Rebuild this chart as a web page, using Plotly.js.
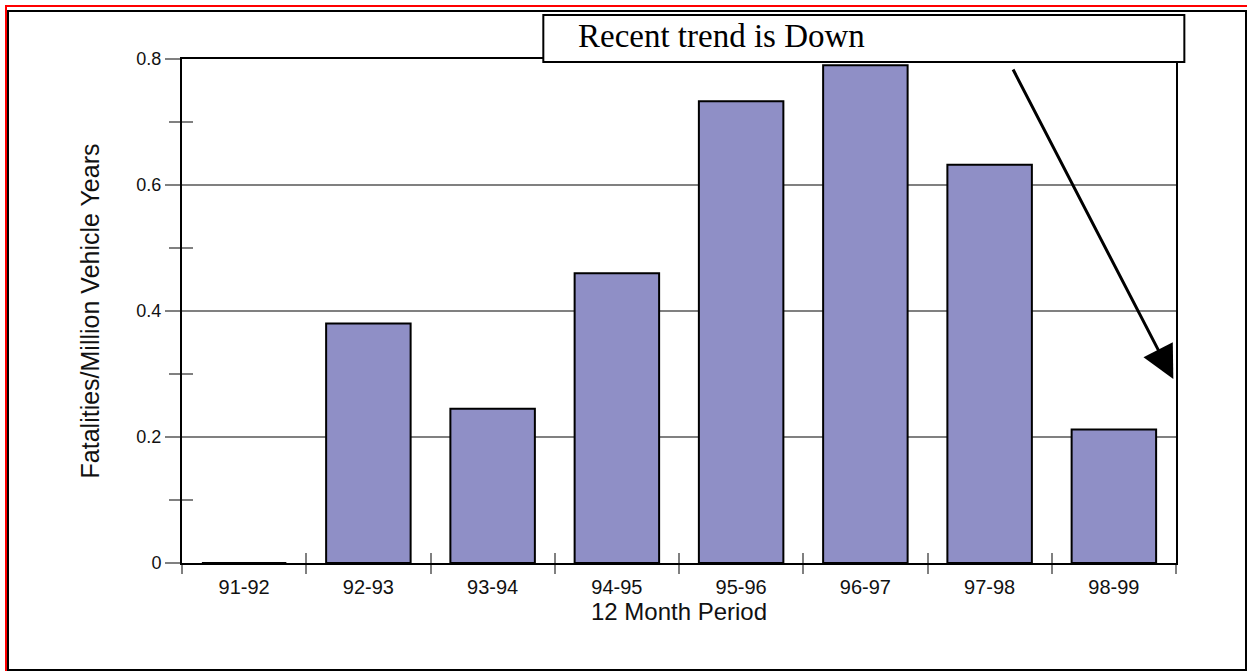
<!DOCTYPE html>
<html>
<head>
<meta charset="utf-8">
<script src="https://cdn.plot.ly/plotly-3.0.1.min.js"></script>
<style>
  html, body { margin: 0; padding: 0; background: #ffffff; overflow: hidden; }
  #redframe { position: absolute; left: 5px; top: 5px; width: 3000px; height: 3000px;
              border-top: 2px solid #ff0000; border-left: 2px solid #ff0000; box-sizing: border-box; }
  #blackframe { position: absolute; left: 7px; top: 10px; width: 1240px; height: 661px;
                border: 2px solid #000000; box-sizing: border-box; }
  #chart { position: absolute; left: 0; top: 0; width: 1247px; height: 671px; }
</style>
</head>
<body>
<div id="redframe"></div>
<div id="blackframe"></div>
<div id="chart"></div>
<script>
// ---- data ----
const periods = ['91-92', '92-93', '93-94', '94-95', '95-96', '96-97', '97-98', '98-99'];
const fatalityRates = [0, 0.38, 0.245, 0.46, 0.733, 0.79, 0.632, 0.212];
const yTickValues = [0, 0.2, 0.4, 0.6, 0.8];
const yTickLabels = ['0', '0.2', '0.4', '0.6', '0.8'];
const yAxisTitle = 'Fatalities/Million Vehicle Years';
const xAxisTitle = '12 Month Period';
const noteText = 'Recent trend is Down';

const sans = '"Liberation Sans", Arial, sans-serif';
const serif = '"Liberation Serif", "Times New Roman", serif';
const tickGray = '#808080';

const bars = {
  type: 'bar',
  x: periods,
  y: fatalityRates,
  width: 0.68,
  marker: { color: 'rgb(143,143,198)', line: { color: '#000000', width: 2 } },
  hoverinfo: 'x+y',
  showlegend: false
};

// invisible companion trace so the inner-tick axes exist
const ghost = {
  type: 'scatter',
  mode: 'markers',
  x: periods,
  y: fatalityRates,
  xaxis: 'x2',
  yaxis: 'y2',
  marker: { opacity: 0 },
  hoverinfo: 'skip',
  showlegend: false
};

const layout = {
  width: 1247,
  height: 671,
  margin: { l: 182, r: 71, t: 59, b: 108, pad: 0 },
  paper_bgcolor: 'rgba(0,0,0,0)',
  plot_bgcolor: '#ffffff',
  showlegend: false,
  bargap: 0.32,
  xaxis: {
    type: 'category',
    range: [-0.5, periods.length - 0.5],
    tickson: 'boundaries',
    ticks: 'outside',
    ticklen: 9,
    tickwidth: 2,
    tickcolor: tickGray,
    ticklabelstandoff: 5,
    showgrid: false,
    zeroline: false,
    showline: true,
    mirror: true,
    linecolor: '#000000',
    linewidth: 2,
    tickfont: { family: sans, size: 20, color: '#111111' },
    title: { text: xAxisTitle, font: { family: sans, size: 24, color: '#111111' }, standoff: 4 }
  },
  yaxis: {
    range: [0, 0.8],
    tickvals: yTickValues,
    ticktext: yTickLabels,
    ticks: 'outside',
    ticklen: 15,
    tickwidth: 2,
    tickcolor: tickGray,
    minor: { dtick: 0.1, ticks: 'outside', ticklen: 11, tickwidth: 2, tickcolor: tickGray, showgrid: false },
    showgrid: true,
    gridcolor: tickGray,
    gridwidth: 2,
    zeroline: false,
    showline: true,
    mirror: true,
    linecolor: '#000000',
    linewidth: 2,
    tickfont: { family: sans, size: 18, color: '#111111' },
    title: { text: yAxisTitle, font: { family: sans, size: 25, color: '#111111' }, standoff: 30 }
  },
  xaxis2: {
    type: 'category',
    overlaying: 'x',
    range: [-0.5, periods.length - 0.5],
    tickson: 'boundaries',
    ticks: 'inside',
    ticklen: 10,
    tickwidth: 2,
    tickcolor: tickGray,
    showticklabels: false,
    showgrid: false,
    zeroline: false,
    showline: false
  },
  yaxis2: {
    overlaying: 'y',
    side: 'left',
    range: [0, 0.8],
    tickvals: yTickValues,
    ticks: 'inside',
    ticklen: 15,
    tickwidth: 2,
    tickcolor: tickGray,
    minor: { dtick: 0.1, ticks: 'inside', ticklen: 11, tickwidth: 2, tickcolor: tickGray, showgrid: false },
    showticklabels: false,
    showgrid: false,
    zeroline: false,
    showline: false
  },
  shapes: [
    {
      type: 'rect', xref: 'paper', yref: 'paper', layer: 'above',
      x0: 0.3635, x1: 1.0084, y0: 0.994, y1: 1.0873,
      fillcolor: '#ffffff', line: { color: '#000000', width: 2 }
    }
  ],
  annotations: [
    {
      xref: 'paper', yref: 'paper', x: 0.3967, y: 1.046,
      xanchor: 'left', yanchor: 'middle',
      text: noteText, showarrow: false,
      font: { family: serif, size: 33, color: '#000000' }
    },
    {
      xref: 'paper', yref: 'paper', x: 0.9973, y: 0.365,
      text: '', showarrow: true,
      axref: 'pixel', ayref: 'pixel', ax: -161, ay: -311,
      arrowhead: 2, arrowsize: 2.2, arrowwidth: 3, arrowcolor: '#000000'
    }
  ]
};

Plotly.newPlot('chart', [bars, ghost], layout, { displayModeBar: false, staticPlot: false });
</script>
</body>
</html>
